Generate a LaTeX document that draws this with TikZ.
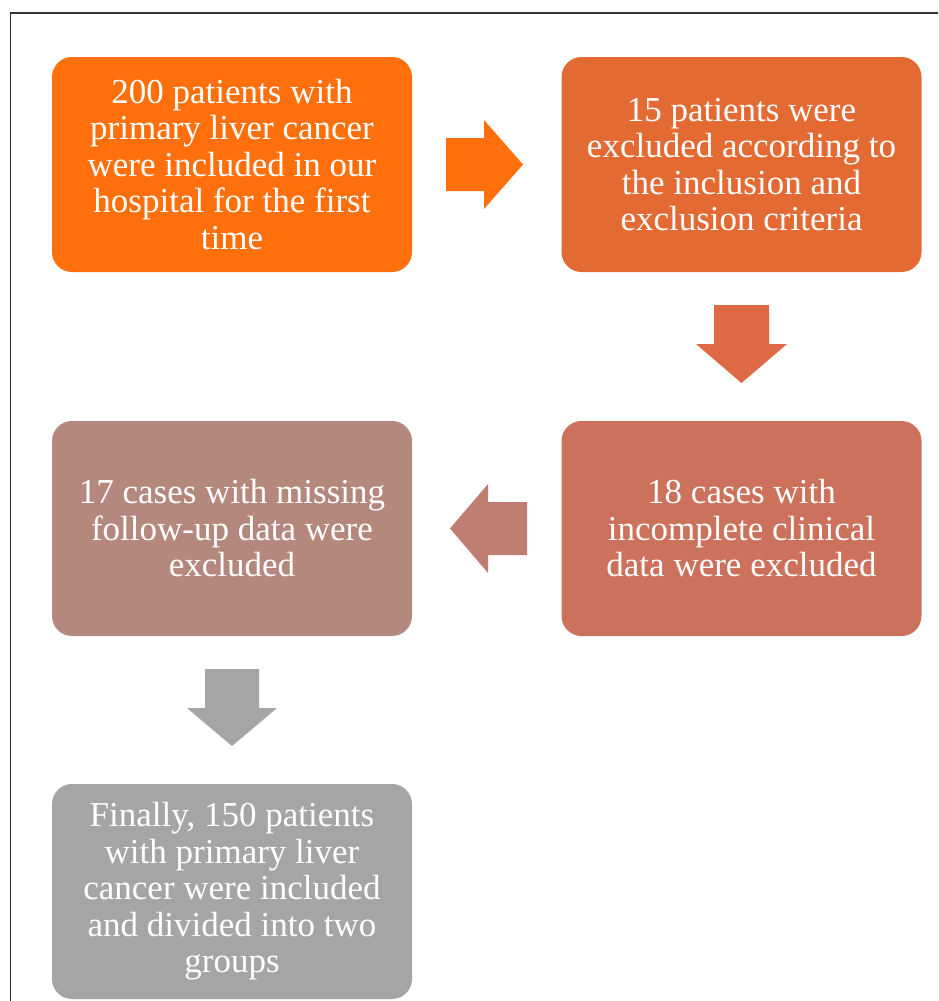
\documentclass[tikz,border=0pt]{standalone}
\usepackage{fontspec}
\setmainfont{Liberation Serif}
\definecolor{cA}{RGB}{255,112,12}
\definecolor{cB}{RGB}{228,106,52}
\definecolor{cBa}{RGB}{221,106,69}
\definecolor{cC}{RGB}{203,113,92}
\definecolor{cCa}{RGB}{192,126,114}
\definecolor{cD}{RGB}{181,136,125}
\definecolor{cE}{RGB}{165,165,165}
\definecolor{frame}{RGB}{50,50,50}
\begin{document}
\begin{tikzpicture}[x=1pt,y=-1pt,
  box/.style={rounded corners=20pt, minimum width=360pt, minimum height=215pt,
    inner sep=0pt, text=white, align=center,
    font=\fontsize{35pt}{36.5pt}\selectfont},
  blockarrow/.style={draw=none}]
\useasboundingbox (0,0) rectangle (938,1001);
\fill[white] (0,0) rectangle (938,1001);
\draw[frame, line width=1.3pt] (10.5,1001) -- (10.5,13) -- (938,13);
% boxes
\node[box, fill=cA] (b1) at (232,164.5) {200 patients with\\primary liver cancer\\were included in our\\hospital for the first\\time};
\node[box, fill=cB] (b2) at (741.5,164.5) {15 patients were\\excluded according to\\the inclusion and\\exclusion criteria};
\node[box, fill=cC] (b3) at (741.5,528.5) {18 cases with\\incomplete clinical\\data were excluded};
\node[box, fill=cD] (b4) at (232,528.5) {17 cases with missing\\follow-up data were\\excluded};
\node[box, fill=cE] (b5) at (232,891.5) {Finally, 150 patients\\with primary liver\\cancer were included\\and divided into two\\groups};
% block arrows
\fill[cA] (446,138) -- (484,138) -- (484,120) -- (523,164.5) -- (484,209) -- (484,191) -- (446,191) -- cycle;
\fill[cBa] (714,305) -- (769,305) -- (769,344) -- (787,344) -- (741.5,383) -- (696,344) -- (714,344) -- cycle;
\fill[cCa] (527,502) -- (488,502) -- (488,484) -- (450,528.5) -- (488,573) -- (488,555) -- (527,555) -- cycle;
\fill[cE] (205,669) -- (259,669) -- (259,708) -- (277,708) -- (232,746) -- (187,708) -- (205,708) -- cycle;
\end{tikzpicture}
\end{document}
